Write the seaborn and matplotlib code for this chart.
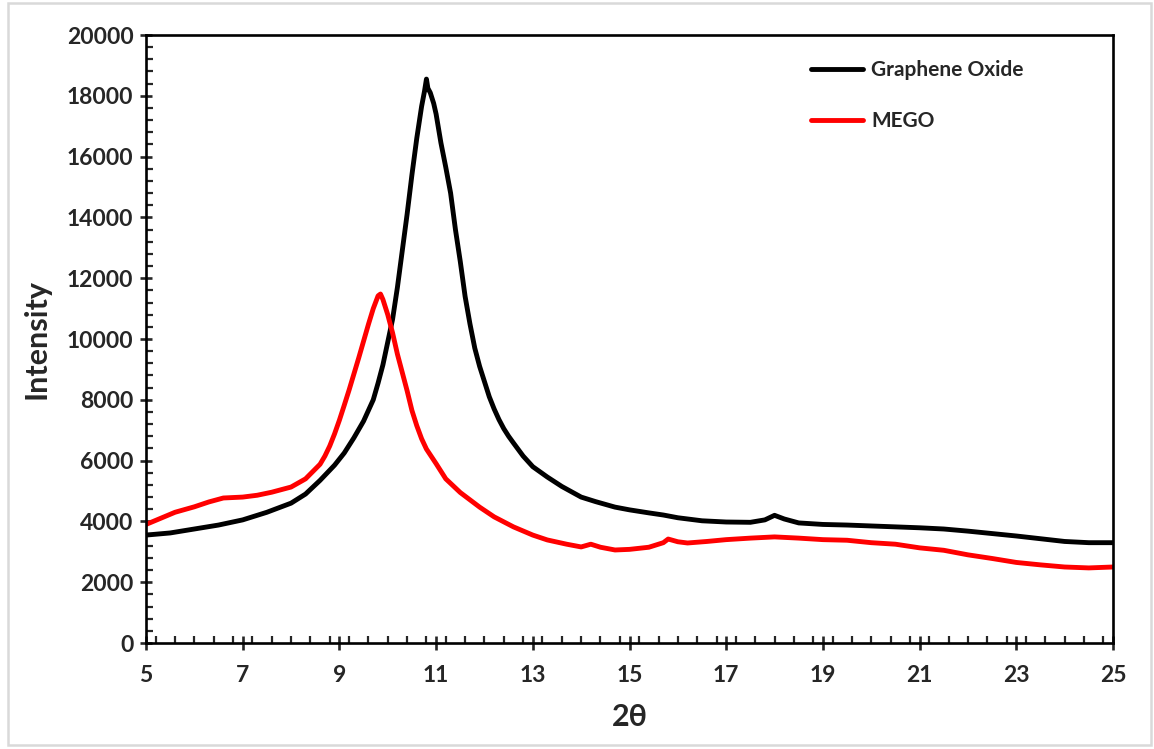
import numpy as np
import pandas as pd
import matplotlib
matplotlib.use("Agg")
import matplotlib.pyplot as plt
import seaborn as sns
from matplotlib.ticker import MultipleLocator
from matplotlib.patches import Rectangle

# ---- data ----
go_x = [5.0, 5.5, 6.0, 6.5, 7.0, 7.5, 8.0, 8.3, 8.6, 8.9, 9.1, 9.3, 9.5, 9.6, 9.7,
        9.8, 9.9, 10.0, 10.1, 10.2, 10.3, 10.4, 10.5, 10.6, 10.7, 10.76, 10.8, 10.83,
        10.88, 10.95, 11.0, 11.1, 11.2, 11.3, 11.4, 11.5, 11.6, 11.7, 11.8, 11.9, 12.0, 12.1,
        12.2, 12.3, 12.4, 12.5, 12.6, 12.8, 13.0, 13.3, 13.6, 14.0, 14.3, 14.7, 15.0,
        15.4, 15.7, 16.0, 16.5, 17.0, 17.5, 17.8, 18.0, 18.2, 18.5, 19.0, 19.5, 20.0,
        20.5, 21.0, 21.5, 22.0, 22.5, 23.0, 23.5, 24.0, 24.5, 25.0]
go_y = [3550, 3620, 3750, 3880, 4050, 4300, 4600, 4900, 5350, 5850, 6250, 6750, 7300, 7650, 8000,
        8550, 9150, 9900, 10650, 11700, 12900, 14100, 15400, 16600, 17650, 18150, 18550, 18250,
        18100, 17750, 17400, 16450, 15650, 14800, 13600, 12550, 11400, 10500, 9700, 9100, 8600, 8100,
        7700, 7350, 7050, 6800, 6580, 6150, 5800, 5460, 5150, 4800, 4650, 4470, 4380,
        4280, 4210, 4120, 4020, 3980, 3970, 4050, 4200, 4080, 3950, 3900, 3880, 3850,
        3820, 3790, 3750, 3680, 3600, 3520, 3430, 3340, 3300, 3300]

mego_x = [5.0, 5.3, 5.6, 6.0, 6.3, 6.6, 7.0, 7.3, 7.6, 8.0, 8.3, 8.6, 8.7, 8.8, 8.9, 9.0, 9.1,
          9.2, 9.3, 9.4, 9.5, 9.6, 9.7, 9.8, 9.85, 9.9, 10.0, 10.1, 10.2, 10.3, 10.4, 10.5,
          10.6, 10.7, 10.8, 11.0, 11.2, 11.5, 11.9, 12.2, 12.6, 13.0, 13.3, 13.7, 14.0,
          14.2, 14.4, 14.7, 15.0, 15.4, 15.7, 15.8, 16.0, 16.2, 16.6, 17.0, 17.5, 18.0,
          18.5, 19.0, 19.5, 20.0, 20.5, 21.0, 21.5, 22.0, 22.5, 23.0, 23.5, 24.0, 24.5, 25.0]
mego_y = [3900, 4100, 4300, 4480, 4640, 4770, 4800, 4860, 4960, 5130, 5400, 5880, 6150, 6480, 6880, 7330, 7820,
          8320, 8850, 9380, 9930, 10480, 11000, 11420, 11480, 11300, 10800, 10200, 9500, 8900, 8300, 7650,
          7150, 6720, 6380, 5900, 5400, 4950, 4470, 4150, 3820, 3550, 3390, 3250, 3160,
          3250, 3150, 3060, 3080, 3150, 3300, 3420, 3330, 3290, 3340, 3400, 3450, 3490,
          3450, 3400, 3380, 3300, 3250, 3130, 3050, 2900, 2780, 2650, 2570, 2500, 2470, 2500]

series_names = ["Graphene Oxide", "MEGO"]
series_colors = ["#000000", "#ff0000"]
x_ticks = [5, 7, 9, 11, 13, 15, 17, 19, 21, 23, 25]
y_ticks = [0, 2000, 4000, 6000, 8000, 10000, 12000, 14000, 16000, 18000, 20000]

df = pd.concat([
    pd.DataFrame({"2θ": go_x, "Intensity": go_y, "Sample": series_names[0]}),
    pd.DataFrame({"2θ": mego_x, "Intensity": mego_y, "Sample": series_names[1]}),
], ignore_index=True)

sns.set_style("ticks")
plt.rcParams["font.family"] = ["Lato", "DejaVu Sans"]
plt.rcParams["font.weight"] = "bold"

fig = plt.figure(figsize=(11.54, 7.49), dpi=100)
ax = fig.add_axes([146/1154, 1 - 643/749, (1113-146)/1154, (643-35)/749])

sns.lineplot(data=df, x="2θ", y="Intensity", hue="Sample",
             palette=dict(zip(series_names, series_colors)), linewidth=3.5,
             sort=False, estimator=None, ax=ax)

ax.set_xlim(5, 25)
ax.set_ylim(0, 20000)
ax.set_xticks(x_ticks)
ax.set_yticks(y_ticks)
ax.xaxis.set_minor_locator(MultipleLocator(0.4))
ax.yaxis.set_minor_locator(MultipleLocator(400))

for s in ax.spines.values():
    s.set_linewidth(1.9)
    s.set_color("black")

ax.tick_params(axis="x", which="major", direction="inout", length=10, width=1.9,
               labelsize=16.5, pad=11)
ax.tick_params(axis="y", which="major", direction="inout", length=8, width=1.9,
               labelsize=16.5, pad=5)
ax.tick_params(which="minor", direction="in", length=5, width=1.6)
ax.tick_params(axis="y", which="minor", left=True)
ax.tick_params(axis="x", which="minor", bottom=True)

for lbl in ax.get_xticklabels() + ax.get_yticklabels():
    lbl.set_fontweight("bold")

ax.set_xlabel("2θ", fontsize=22, fontweight="bold", labelpad=12)
ax.set_ylabel("Intensity", fontsize=22, fontweight="bold", labelpad=12)

leg = ax.legend(loc="upper left", bbox_to_anchor=(0.668, 0.99), frameon=False,
                handlelength=2.5, labelspacing=1.5, handletextpad=0.4,
                prop={"size": 15, "weight": "bold"})
for h in leg.get_lines():
    h.set_linewidth(3.5)

fig.patches.append(Rectangle((8/1154, 4/749), 1143/1154, 742/749, transform=fig.transFigure,
                             fill=False, edgecolor="#d9d9d9", linewidth=1.8))

fig.savefig("out.png", dpi=100)
